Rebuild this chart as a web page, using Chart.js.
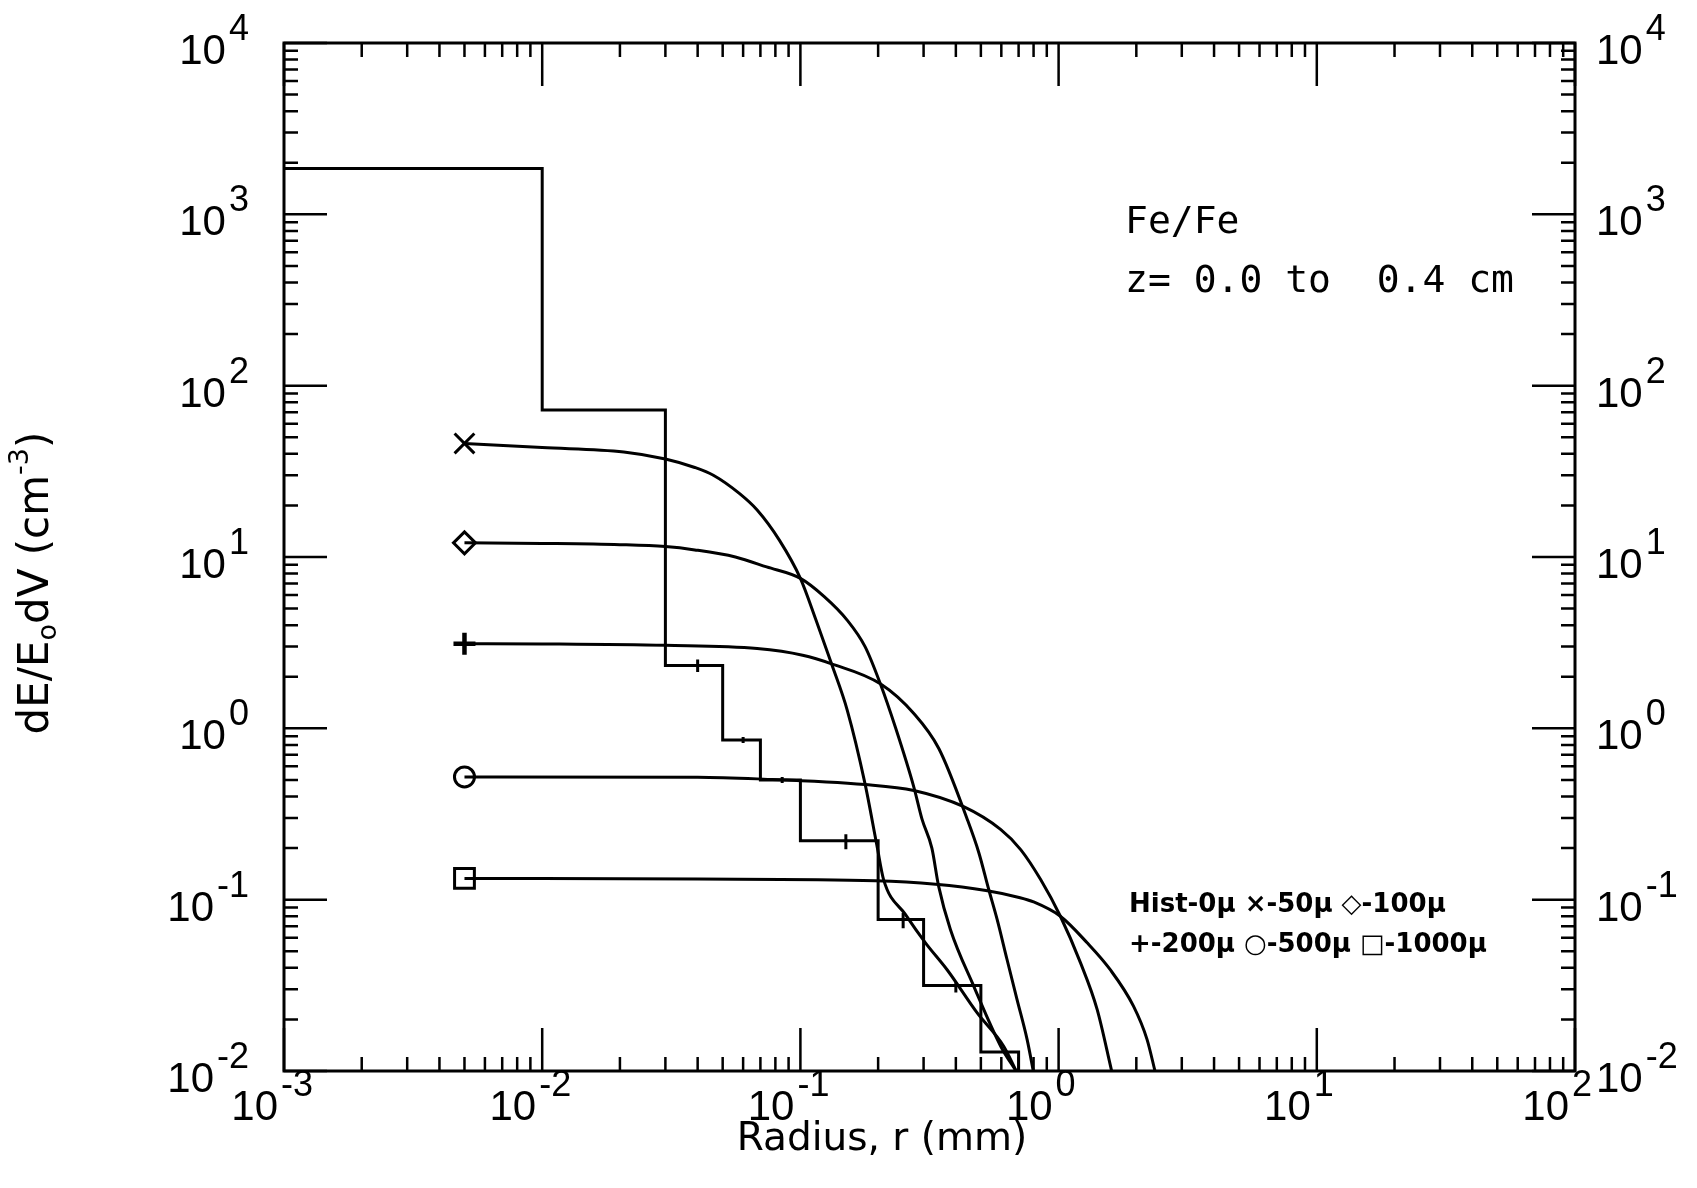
<!DOCTYPE html>
<html lang="en">
<head>
<meta charset="UTF-8">
<title>Fe/Fe dE/E0dV vs radius</title>
<script src="https://cdn.jsdelivr.net/npm/chart.js"></script>
<style>
  html, body { margin: 0; padding: 0; background: #fff; }
  canvas { display: block; }
</style>
</head>
<body>
<canvas id="chart" width="1697" height="1188"></canvas>
<script>
// histogram (no smearing): bin left edges (mm) and heights
const histEdges = [0.001, 0.01, 0.03, 0.05, 0.07, 0.1, 0.2, 0.3, 0.5, 0.7];
const histValues = [1850, 72, 2.33, 0.855, 0.50, 0.221, 0.0767, 0.0315, 0.0129];

// error bars on the histogram
const errX = [0.04, 0.06, 0.085, 0.15, 0.25, 0.4];
const errLo = [2.13, 0.82, 0.48, 0.197, 0.068, 0.0287];
const errHi = [2.52, 0.89, 0.52, 0.241, 0.084, 0.0330];

// smeared curves, radius (mm) and value
const r50 = [0.005, 0.01, 0.0207, 0.03, 0.039, 0.046, 0.058, 0.068, 0.083, 0.1, 0.115, 0.132, 0.152, 0.178, 0.198, 0.21, 0.255, 0.305, 0.37, 0.483, 0.612, 0.69];
const d50 = [46, 43.5, 41, 37.3, 33.3, 30, 23.5, 18.8, 12.5, 7.5, 4.27, 2.38, 1.27, 0.474, 0.206, 0.131, 0.082, 0.056, 0.039, 0.0219, 0.014, 0.0098];

const r100 = [0.005, 0.01, 0.02, 0.03, 0.039, 0.056, 0.074, 0.1, 0.124, 0.152, 0.178, 0.204, 0.234, 0.275, 0.296, 0.323, 0.343, 0.381, 0.469, 0.596, 0.69];
const d100 = [12.1, 12.0, 11.8, 11.5, 11.0, 10.0, 8.75, 7.5, 5.85, 4.27, 3.0, 1.82, 1.0, 0.454, 0.294, 0.2, 0.12, 0.067, 0.0313, 0.014, 0.0098];

const r200 = [0.005, 0.01, 0.03, 0.068, 0.102, 0.132, 0.204, 0.275, 0.344, 0.443, 0.491, 0.536, 0.578, 0.631, 0.69, 0.755, 0.80];
const d200 = [3.12, 3.11, 3.05, 2.92, 2.67, 2.38, 1.82, 1.22, 0.76, 0.294, 0.188, 0.115, 0.0767, 0.0449, 0.0262, 0.0153, 0.0098];

const r500 = [0.005, 0.04, 0.068, 0.178, 0.275, 0.427, 0.596, 0.713, 0.852, 1.016, 1.215, 1.41, 1.61];
const d500 = [0.52, 0.518, 0.507, 0.47, 0.434, 0.35, 0.257, 0.196, 0.131, 0.080, 0.0429, 0.0229, 0.0098];

const r1000 = [0.005, 0.04, 0.195, 0.334, 0.523, 0.703, 0.80, 1.016, 1.29, 1.585, 1.95, 2.2, 2.37];
const d1000 = [0.133, 0.132, 0.129, 0.123, 0.113, 0.103, 0.097, 0.080, 0.056, 0.039, 0.0239, 0.0153, 0.0098];

// decade exponents used for tick labels
const xTickExp = [-3, -2, -1, 0, 1, 2];
const yTickExp = [-2, -1, 0, 1, 2, 3, 4];

const noteLines = ['Fe/Fe', 'z= 0.0 to  0.4 cm'];
const keyLines = ['Hist-0\u03bc \u00d7-50\u03bc \u25c7-100\u03bc', '+-200\u03bc \u25cb-500\u03bc \u25a1-1000\u03bc'];
const xTitle = 'Radius, r (mm)';

const pts = (xs, ys) => xs.map((v, i) => ({ x: v, y: ys[i] }));

function curve(xs, ys, style, r, bw) {
  return {
    data: pts(xs, ys),
    borderColor: '#000',
    borderWidth: 3,
    cubicInterpolationMode: 'monotone',
    pointStyle: style,
    pointRadius: ys.map((_, i) => i === 0 ? r : 0),
    pointBorderColor: '#000',
    pointBackgroundColor: 'rgba(0,0,0,0)',
    pointBorderWidth: bw || 3
  };
}

// histogram as a step line, dropping to the axis at the last edge
const histData = histValues.map((v, i) => ({ x: histEdges[i], y: v }));
histData.push({ x: histEdges[histEdges.length - 1], y: 0.005 });

const errData = [];
errX.forEach((v, i) => {
  errData.push({ x: v, y: errLo[i] }, { x: v, y: errHi[i] }, { x: v, y: null });
});

const frame = {
  id: 'frame',
  afterDatasetsDraw(chart) {
    const { ctx, chartArea: a, scales: { x, y } } = chart;
    ctx.save();
    ctx.strokeStyle = '#000';
    ctx.fillStyle = '#000';
    ctx.lineWidth = 3;
    ctx.strokeRect(a.left, a.top, a.right - a.left, a.bottom - a.top);

    // inward ticks on all four sides
    ctx.lineWidth = 2.5;
    ctx.beginPath();
    xTickExp.forEach((e, i) => {
      for (let m = 1; m <= 9; m++) {
        if (m > 1 && i === xTickExp.length - 1) break;
        const px = x.getPixelForValue(m * Math.pow(10, e));
        const len = m === 1 ? 43 : 14;
        ctx.moveTo(px, a.bottom); ctx.lineTo(px, a.bottom - len);
        ctx.moveTo(px, a.top); ctx.lineTo(px, a.top + len);
      }
    });
    yTickExp.forEach((e, i) => {
      for (let m = 1; m <= 9; m++) {
        if (m > 1 && i === yTickExp.length - 1) break;
        const py = y.getPixelForValue(m * Math.pow(10, e));
        const len = m === 1 ? 43 : 14;
        ctx.moveTo(a.left, py); ctx.lineTo(a.left + len, py);
        ctx.moveTo(a.right, py); ctx.lineTo(a.right - len, py);
      }
    });
    ctx.stroke();

    // tick labels 10^n
    const big = '42px "Liberation Sans"';
    const small = '36px "Liberation Sans"';
    ctx.textBaseline = 'alphabetic';
    xTickExp.forEach(e => {
      const px = x.getPixelForValue(Math.pow(10, e));
      ctx.font = big; ctx.textAlign = 'right';
      ctx.fillText('10', px - 6, a.bottom + 49);
      ctx.font = small; ctx.textAlign = 'left';
      ctx.fillText(String(e), px - 3, a.bottom + 25);
    });
    yTickExp.forEach(e => {
      const py = y.getPixelForValue(Math.pow(10, e));
      const s = String(e);
      ctx.font = small;
      const ws = ctx.measureText(s).width;
      ctx.textAlign = 'right';
      ctx.fillText(s, 249, py - 3);
      ctx.font = big;
      ctx.fillText('10', 249 - ws - 3, py + 21);
      // right side
      ctx.textAlign = 'left';
      ctx.font = big;
      const w10 = ctx.measureText('10').width;
      ctx.fillText('10', a.right + 21, py + 21);
      ctx.font = small;
      ctx.fillText(s, a.right + 21 + w10 + 3, py - 3);
    });

    // axis titles
    ctx.font = '39px "DejaVu Sans"';
    ctx.textAlign = 'center';
    ctx.fillText(xTitle, 882, 1150);

    ctx.save();
    ctx.translate(48, 583);
    ctx.rotate(-Math.PI / 2);
    const parts = [
      { t: 'dE/E', f: '42px "DejaVu Sans"', dy: 0 },
      { t: 'o', f: '27px "DejaVu Sans"', dy: 8 },
      { t: 'dV (cm', f: '42px "DejaVu Sans"', dy: 0 },
      { t: '-3', f: '27px "DejaVu Sans"', dy: -20 },
      { t: ')', f: '42px "DejaVu Sans"', dy: 0 }
    ];
    ctx.textAlign = 'left';
    let total = 0;
    parts.forEach(p => { ctx.font = p.f; p.w = ctx.measureText(p.t).width; total += p.w; });
    let cx = -total / 2;
    parts.forEach(p => { ctx.font = p.f; ctx.fillText(p.t, cx, p.dy); cx += p.w; });
    ctx.restore();

    // annotation
    ctx.textAlign = 'left';
    ctx.font = '38px "DejaVu Sans Mono"';
    ctx.fillText(noteLines[0], 1125, 233);
    ctx.fillText(noteLines[1], 1125, 292);

    // symbol key
    ctx.font = 'bold 26px "DejaVu Sans"';
    ctx.fillText(keyLines[0], 1129, 912);
    ctx.fillText(keyLines[1], 1129, 952);

    ctx.restore();
  }
};

new Chart(document.getElementById('chart'), {
  type: 'line',
  data: {
    datasets: [
      {
        data: histData,
        stepped: true,
        borderColor: '#000',
        borderWidth: 3,
        pointRadius: 0
      },
      {
        data: errData,
        borderColor: '#000',
        borderWidth: 3,
        pointRadius: 0,
        spanGaps: false
      },
      curve(r50, d50, 'crossRot', 14),
      curve(r100, d100, 'rectRot', 11),
      curve(r200, d200, 'cross', 11, 4.5),
      curve(r500, d500, 'circle', 10),
      curve(r1000, d1000, 'rect', 14)
    ]
  },
  options: {
    responsive: false,
    devicePixelRatio: 1,
    animation: false,
    layout: { padding: { left: 284, right: 122, top: 43, bottom: 117 } },
    plugins: { legend: { display: false }, tooltip: { enabled: false } },
    scales: {
      x: { type: 'logarithmic', min: 0.001, max: 100, display: false },
      y: { type: 'logarithmic', min: 0.01, max: 10000, display: false }
    }
  },
  plugins: [frame]
});
</script>
</body>
</html>
